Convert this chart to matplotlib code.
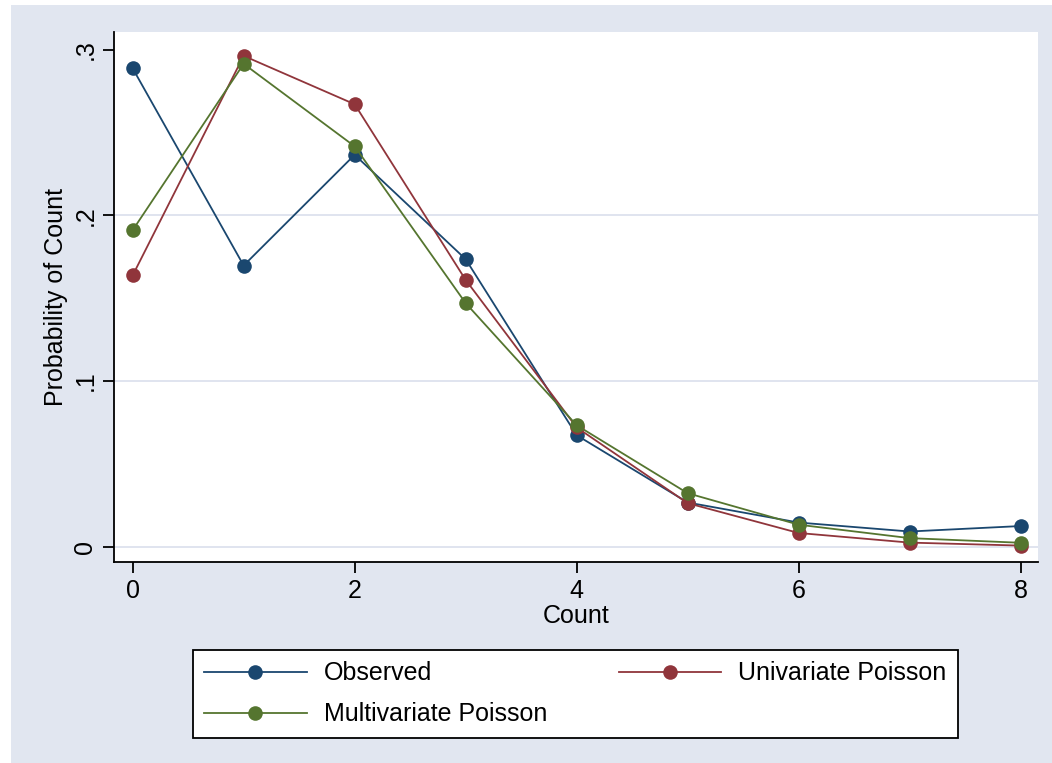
import matplotlib.pyplot as plt
from matplotlib.patches import Rectangle

plt.rcParams['font.family'] = ['Liberation Sans', 'DejaVu Sans']

counts = [0, 1, 2, 3, 4, 5, 6, 7, 8]
observed = [0.2887, 0.1697, 0.2365, 0.1735, 0.0673, 0.0267, 0.0146, 0.0092, 0.0125]
univariate = [0.1637, 0.2962, 0.2670, 0.1610, 0.0720, 0.0263, 0.0083, 0.0025, 0.0007]
multivariate = [0.1910, 0.2914, 0.2416, 0.1470, 0.0733, 0.0323, 0.0133, 0.0052, 0.0024]

series_names = ['Observed', 'Univariate Poisson', 'Multivariate Poisson']
series_colors = ['#1a476f', '#90353b', '#55752f']

bg = '#e1e6f0'
W, H = 1052, 763
fs = 18

fig = plt.figure(figsize=(W / 100, H / 100), dpi=100, facecolor='white')
fig.patches.append(Rectangle((11 / W, 0), 1 - 11 / W, 1 - 5 / H,
                             transform=fig.transFigure, facecolor=bg,
                             edgecolor='none', zorder=-10))

ax = fig.add_axes([114 / W, 1 - 562 / H, (1038 - 114) / W, (562 - 32) / H])
ax.set_facecolor('white')

for yv in [0, 0.1, 0.2]:
    ax.axhline(yv, color='#dde2ee', lw=1.3, zorder=0)

handles = []
for vals, name, col in zip([observed, univariate, multivariate], series_names, series_colors):
    h, = ax.plot(counts, vals, color=col, lw=1.3, marker='o', markersize=10.5,
                 markeredgewidth=0, label=name)
    handles.append(h)

ax.set_xlim(-0.168, 8.156)
ax.set_ylim(-0.0092, 0.3106)
ax.set_xticks([0, 2, 4, 6, 8])
ax.set_yticks([0, 0.1, 0.2, 0.3])
ax.set_yticklabels(['0', '.1', '.2', '.3'], rotation=90, va='center')
ax.tick_params(axis='both', length=8, width=1.3, color='black', labelsize=fs, pad=4)
for s in ['top', 'right']:
    ax.spines[s].set_visible(False)
for s in ['left', 'bottom']:
    ax.spines[s].set_linewidth(1.3)
ax.set_xlabel('Count', fontsize=fs, labelpad=1)
ax.set_ylabel('Probability of Count', fontsize=fs, labelpad=4)

# legend fills column-wise, so order handles to get Stata's row layout
leg_handles = [handles[0], handles[2], handles[1]]
leg = fig.legend(handles=leg_handles, ncol=2, loc='upper left',
                 bbox_to_anchor=(193 / W, 1 - 737 / H, (958 - 193) / W, 87 / H),
                 mode='expand', fontsize=fs, frameon=True, fancybox=False,
                 framealpha=1, facecolor='white',
                 handlelength=4.1, handletextpad=0.7, borderpad=0.45,
                 labelspacing=0.68, borderaxespad=0)
leg.get_frame().set_edgecolor('black')
leg.get_frame().set_linewidth(1.3)

fig.savefig('out.png', dpi=100, facecolor='white')
